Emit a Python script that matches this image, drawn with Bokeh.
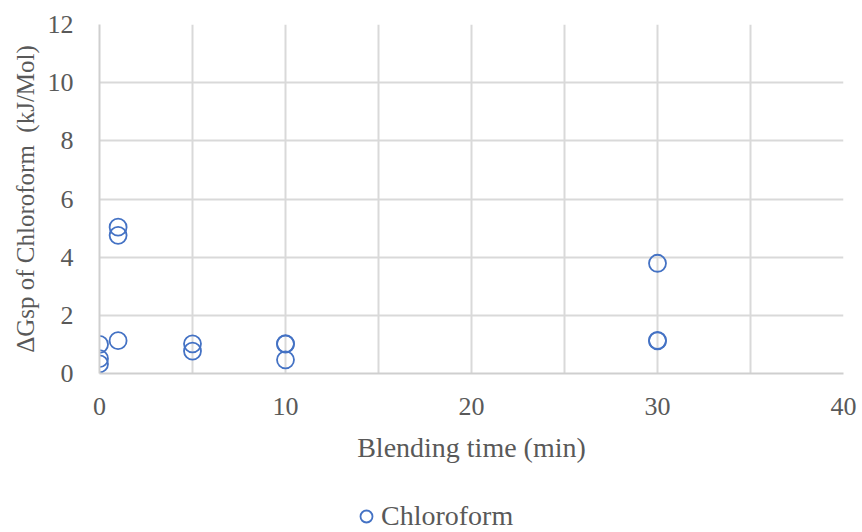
from bokeh.plotting import figure
from bokeh.layouts import column
from bokeh.models import FixedTicker, Range1d, Legend, LegendItem, ColumnDataSource
from bokeh.embed import file_html
from bokeh.resources import INLINE

# Blending time (min) and surface free energy of chloroform adsorption
blend_time = [0, 0, 0, 1, 1, 1, 5, 5, 10, 10, 10, 30, 30, 30]
dg_chloroform = [1.00, 0.51, 0.33, 5.03, 4.75, 1.13, 1.02, 0.77, 1.03, 1.01, 0.47, 3.79, 1.14, 1.12]
series_name = "Chloroform"

x_ticks = [0, 10, 20, 30, 40]
x_grid = [0, 5, 10, 15, 20, 25, 30, 35, 40]
y_ticks = [0, 2, 4, 6, 8, 10, 12]

FONT = "Liberation Serif"
TEXT_COLOR = "#595959"
BLUE = "#4472C4"
MARKER = dict(marker="circle", fill_color=None, line_color=BLUE, line_width=1.8)

p = figure(frame_width=744, frame_height=349, output_backend="svg", toolbar_location=None,
           x_range=Range1d(0, 40), y_range=Range1d(0, 12),
           min_border_left=99, min_border_right=19, min_border_top=24,
           min_border_bottom=124)
p.outline_line_color = None
p.background_fill_color = "white"
p.border_fill_color = "white"

src = ColumnDataSource(dict(x=blend_time, y=dg_chloroform))
r = p.scatter("x", "y", source=src, size=17, **MARKER)

# axes
for ax in (p.xaxis[0], p.yaxis[0]):
    ax.major_tick_line_color = None
    ax.minor_tick_line_color = None
    ax.axis_line_color = "#CFCFCF"
    ax.axis_line_width = 2
    ax.major_label_text_font = FONT
    ax.major_label_text_font_size = "26px"
    ax.major_label_text_color = TEXT_COLOR
    ax.axis_label_text_font = FONT
    ax.axis_label_text_font_style = "normal"
    ax.axis_label_text_color = TEXT_COLOR

p.xaxis.axis_label_text_font_size = "28px"
p.yaxis.axis_label_text_font_size = "25px"
p.xaxis.ticker = FixedTicker(ticks=x_ticks)
p.yaxis.ticker = FixedTicker(ticks=y_ticks)
p.xaxis.axis_label = "Blending time (min)"
p.yaxis.axis_label = "\u0394Gsp of Chloroform\u00a0 (kJ/Mol)"
p.xaxis.major_label_standoff = 18
p.xaxis.axis_label_standoff = 14
p.yaxis.major_label_standoff = 20
p.yaxis.axis_label_standoff = 6

p.xgrid.ticker = FixedTicker(ticks=x_grid)
p.ygrid.ticker = FixedTicker(ticks=y_ticks)
for g in (p.xgrid[0], p.ygrid[0]):
    g.grid_line_color = "#D9D9D9"
    g.grid_line_width = 2

# legend strip under the chart; its key renderer shares the series styling,
# and the strip's ranges sit far from the data so only the legend shows
lg = figure(width=862, height=35, output_backend="svg", toolbar_location=None,
            x_axis_type=None, y_axis_type=None, min_border=0,
            x_range=Range1d(1000, 1001), y_range=Range1d(1000, 1001))
lg.outline_line_color = None
lg.xgrid.visible = False
lg.ygrid.visible = False
key = lg.scatter("x", "y", source=src, size=17, **MARKER)

legend = Legend(items=[LegendItem(label=series_name, renderers=[key])],
                location=(252, 0), orientation="horizontal",
                border_line_color=None, background_fill_alpha=0,
                padding=0, margin=0, spacing=0,
                glyph_width=30, glyph_height=30, label_standoff=0,
                label_text_font=FONT, label_text_font_size="28px",
                label_text_color=TEXT_COLOR)
lg.add_layout(legend, "center")

layout = column(p, lg, spacing=0)
open("out.html", "w").write(file_html(layout, INLINE))
